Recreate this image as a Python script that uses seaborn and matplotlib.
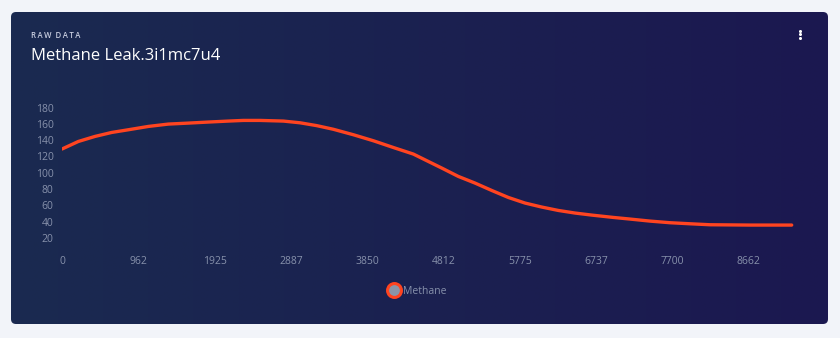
import numpy as np
import pandas as pd
import matplotlib
matplotlib.use("Agg")
import matplotlib.pyplot as plt
import seaborn as sns
from matplotlib.patches import FancyBboxPatch
from matplotlib.lines import Line2D

# ---- data ----
time_index = [0, 206, 416, 627, 836, 1089, 1341, 1593, 1846, 2098, 2287, 2498,
              2792, 3002, 3213, 3423, 3675, 3927, 4179, 4432, 4621, 4790, 4999,
              5210, 5421, 5630, 5841, 6051, 6261, 6472, 6682, 6955, 7165, 7417,
              7670, 7922, 8175, 8680, 9205]
methane = [129.2, 138.5, 144.7, 149.6, 152.9, 157.0, 159.9, 161.1, 162.4, 163.6,
           164.4, 164.4, 163.6, 161.5, 158.0, 153.5, 146.8, 139.4, 131.1, 123.0,
           113.9, 105.8, 95.5, 87.3, 78.2, 69.6, 62.7, 57.8, 53.6, 50.4, 47.9,
           45.0, 43.0, 40.5, 38.5, 37.2, 36.0, 35.6, 35.6]
x_tick_values = [0, 962.5, 1925, 2887.5, 3850, 4812.5, 5775, 6737.5, 7700, 8662.5]
x_tick_labels = ["0", "962", "1925", "2887", "3850", "4812", "5775", "6737", "7700", "8662"]
y_tick_values = [20, 40, 60, 80, 100, 120, 140, 160, 180]
series_name = "Methane"
title = "Methane Leak.3i1mc7u4"
subtitle = "RAW DATA"

df = pd.DataFrame({"t": time_index, "value": methane})

sns.set_theme(style="dark")
plt.rcParams['font.family'] = ['Open Sans', 'DejaVu Sans']

W, H = 840, 338
fig = plt.figure(figsize=(W / 100, H / 100), dpi=100)
fig.patch.set_facecolor('#f2f4f9')

# background card with gradient
bg = fig.add_axes([0, 0, 1, 1], zorder=0)
bg.set_xlim(0, W)
bg.set_ylim(H, 0)
bg.axis('off')
card = FancyBboxPatch((11, 12), 817, 312, boxstyle="round,pad=0,rounding_size=5",
                      facecolor='none', edgecolor='none', transform=bg.transData)
bg.add_patch(card)
c1 = np.array([0x1a, 0x2a, 0x50]) / 255
c2 = np.array([0x1c, 0x18, 0x50]) / 255
grad = np.linspace(0, 1, 256)[None, :, None]
img = c1 + (c2 - c1) * grad
im = bg.imshow(np.repeat(img, 2, axis=0), extent=(11, 828, 324, 12), aspect='auto',
               interpolation='bilinear', zorder=1)
im.set_clip_path(card)

spaced_sub = "\u2009".join(subtitle).replace("\u2009 \u2009", "  ")
bg.text(31, 35, spaced_sub, fontsize=5.6, color='#c9cee0',
        va='center', ha='left', fontweight='semibold')
bg.text(31, 56, title, fontsize=12, color='white', va='center', ha='left', fontweight='medium')
for dy in (-3.5, 0, 3.5):
    bg.plot([800], [34 + dy], marker='o', markersize=2.2, color='white', mec='none')

# main plot axes
px_per_unit_x = 76.3 / 962.5
x_right = 9250
left_px = 62
right_px = left_px + x_right * px_per_unit_x
y0_px = 254
y_top_val = 190
py_per_unit = 0.8125
top_px = y0_px - y_top_val * py_per_unit
ax = fig.add_axes([left_px / W, (H - y0_px) / H, (right_px - left_px) / W, (y0_px - top_px) / H],
                  zorder=2)
ax.set_facecolor('none')
sns.lineplot(data=df, x="t", y="value", ax=ax, color='#ff4420', linewidth=2.4,
             legend=False)
ax.set_xlim(0, x_right)
ax.set_ylim(0, y_top_val)
ax.set_xticks(x_tick_values)
ax.set_xticklabels(x_tick_labels)
ax.set_yticks(y_tick_values)
ax.set_xlabel("")
ax.set_ylabel("")
ax.grid(False)
for s in ax.spines.values():
    s.set_visible(False)
ax.tick_params(axis='both', colors='#8791ab', labelsize=7.5, length=0)
ax.tick_params(axis='y', pad=6)
ax.tick_params(axis='x', pad=1.5)

handle = Line2D([], [], linestyle='none', marker='o', markersize=10,
                markerfacecolor='#8a95a8', markeredgecolor='#ff4420', markeredgewidth=2.2)
leg = fig.legend([handle], [series_name], loc='center', bbox_to_anchor=(417 / W, 1 - 291 / H),
                 frameon=False, fontsize=7.5, handletextpad=0.25, borderpad=0, handlelength=1.3)
for t in leg.get_texts():
    t.set_color('#8791ab')

fig.savefig("out.png", dpi=100, facecolor=fig.get_facecolor())
